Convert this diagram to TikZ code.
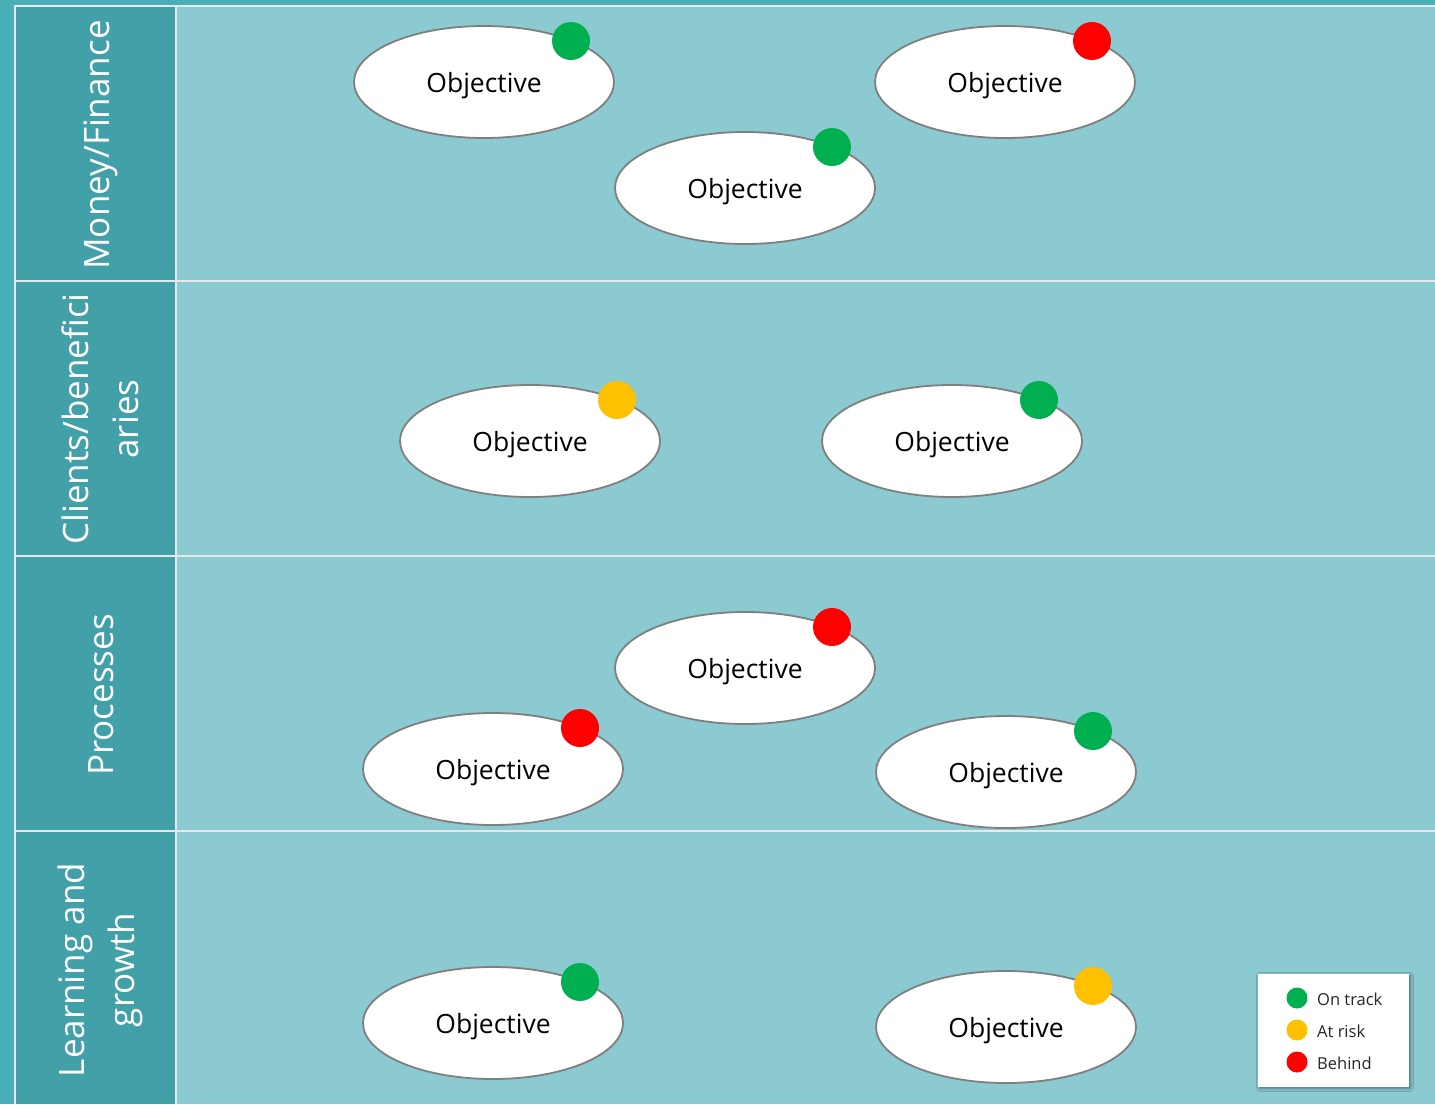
\documentclass[tikz,border=0pt]{standalone}
\usepackage{fontspec}
\setmainfont{Open Sans}
\usetikzlibrary{shapes.geometric,shadows.blur}
\definecolor{outerteal}{HTML}{48AEB8}
\definecolor{headteal}{HTML}{42A0A9}
\definecolor{bodyteal}{HTML}{8BCAD0}
\definecolor{gridline}{HTML}{E8E8E8}
\definecolor{ontrack}{HTML}{00B050}
\definecolor{atrisk}{HTML}{FFC000}
\definecolor{behind}{HTML}{FF0000}
\definecolor{ellline}{HTML}{7F7F7F}
\definecolor{legtext}{HTML}{262626}
\tikzset{
  objective/.style={ellipse, draw=ellline, line width=1.8pt, fill=white,
    minimum width=260pt, minimum height=112pt, inner sep=0pt,
    text height=24pt, text depth=3pt,
    font=\fontsize{26.5}{30}\selectfont, text=black},
  statusdot/.style={circle, fill=#1, minimum size=38pt, inner sep=0pt},
  legdot/.style={circle, fill=#1, minimum size=21pt, inner sep=0pt},
  legtxt/.style={anchor=west, inner sep=0pt, text=legtext,
    font=\fontsize{16.5}{19}\selectfont},
  rowlabel/.style={rotate=90, align=center, text=white, inner sep=0pt,
    font=\fontsize{35}{50}\selectfont},
  legendbox/.style={rectangle, fill=white, inner sep=0pt,
    blur shadow={shadow xshift=1.5pt, shadow yshift=-1.5pt,
      shadow blur radius=3pt, shadow opacity=45}}
}
\begin{document}
\begin{tikzpicture}[x=1pt,y=-1pt]
% page background and frame
\fill[outerteal] (0,0) rectangle (1435,1104);
\useasboundingbox (0,0) rectangle (1435,1104);
% header column and body
\fill[headteal] (15,6) rectangle (176,1104);
\fill[bodyteal] (176,6) rectangle (1435,1104);
% grid lines
\draw[gridline, line width=2.5pt] (15,1104) -- (15,6) -- (1435,6);
\draw[gridline, line width=2.5pt] (176,6) -- (176,1104);
\foreach \yy in {281,556,831}
  \draw[gridline, line width=2.5pt] (15,\yy) -- (1435,\yy);

% row labels
\node[rowlabel] (lab1) at (101,145) {Money/Finance};
\node[rowlabel] (lab2) at (100,419) {Clients/benefici\\aries};
\node[rowlabel] (lab3) at (101,695) {Processes};
\node[rowlabel] (lab4) at (100,970) {Learning and\\growth};

% objectives
\node[objective] (e1)  at (484,82)   {Objective};
\node[objective] (e2)  at (1005,82)  {Objective};
\node[objective] (e3)  at (745,188)  {Objective};
\node[objective] (e4)  at (530,441)  {Objective};
\node[objective] (e5)  at (952,441)  {Objective};
\node[objective] (e6)  at (745,668)  {Objective};
\node[objective] (e7)  at (493,769)  {Objective};
\node[objective] (e8)  at (1006,772) {Objective};
\node[objective] (e9)  at (493,1023) {Objective};
\node[objective] (e10) at (1006,1027){Objective};

% status markers
\node[statusdot=ontrack] (d1)  at ([shift={(87,-41)}]e1.center)  {};
\node[statusdot=behind]  (d2)  at ([shift={(87,-41)}]e2.center)  {};
\node[statusdot=ontrack] (d3)  at ([shift={(87,-41)}]e3.center)  {};
\node[statusdot=atrisk]  (d4)  at ([shift={(87,-41)}]e4.center)  {};
\node[statusdot=ontrack] (d5)  at ([shift={(87,-41)}]e5.center)  {};
\node[statusdot=behind]  (d6)  at ([shift={(87,-41)}]e6.center)  {};
\node[statusdot=behind]  (d7)  at ([shift={(87,-41)}]e7.center)  {};
\node[statusdot=ontrack] (d8)  at ([shift={(87,-41)}]e8.center)  {};
\node[statusdot=ontrack] (d9)  at ([shift={(87,-41)}]e9.center)  {};
\node[statusdot=atrisk]  (d10) at ([shift={(87,-41)}]e10.center) {};

% legend
\node[legendbox, minimum width=151pt, minimum height=113pt] (legend) at (1333.5,1030.5) {};
\node[legdot=ontrack] (l1) at (1297,998)  {};
\node[legdot=atrisk]  (l2) at (1297,1030) {};
\node[legdot=behind]  (l3) at (1297,1062) {};
\node[legtxt] (t1) at (1317,999)  {On track};
\node[legtxt] (t2) at (1317,1031) {At risk};
\node[legtxt] (t3) at (1317,1063) {Behind};
\end{tikzpicture}
\end{document}
